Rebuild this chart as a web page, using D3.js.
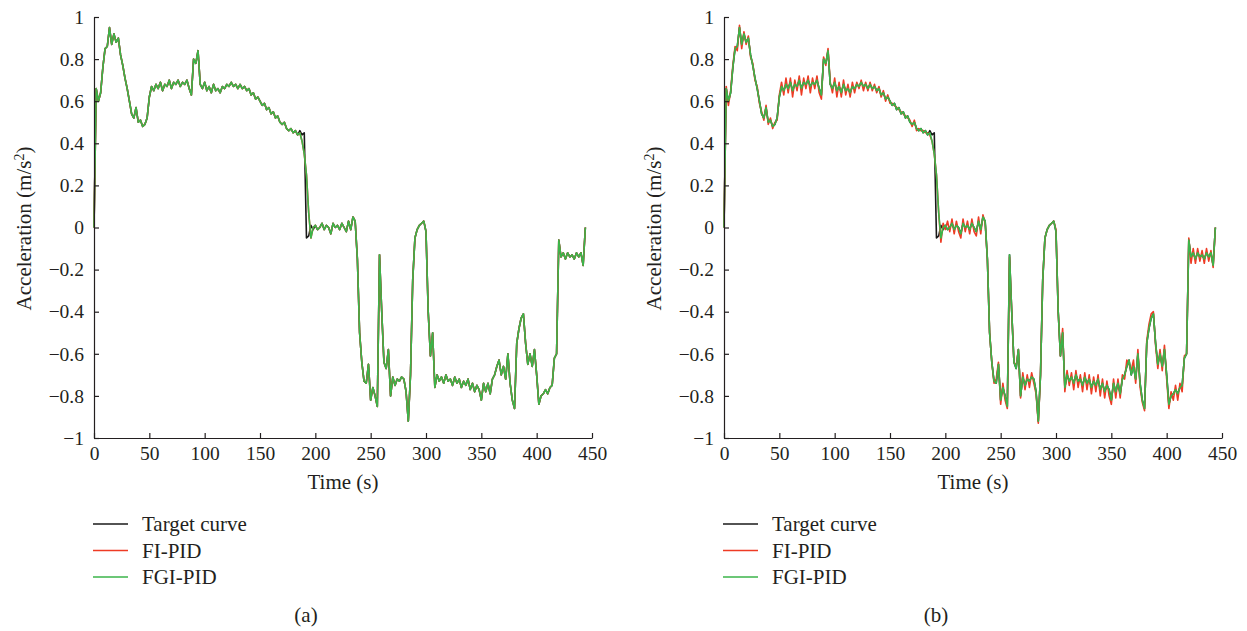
<!DOCTYPE html>
<html>
<head>
<meta charset="utf-8">
<script src="https://cdn.jsdelivr.net/npm/d3@7"></script>
<style>
  html, body { margin: 0; padding: 0; background: #fff; }
  svg { display: block; }
  text { font-family: "Liberation Serif", "DejaVu Serif", serif; fill: #231f20; }
</style>
</head>
<body>
<svg id="chart" width="1247" height="631"></svg>
<script>
// ---------------- DATA ----------------
const timeStep = 2; // s, sampling grid of the read-off curves
const time = d3.range(0, 445, timeStep);

const xTicks = [0, 50, 100, 150, 200, 250, 300, 350, 400, 450];
const yTicks = [-1, -0.8, -0.6, -0.4, -0.2, 0, 0.2, 0.4, 0.6, 0.8, 1];
const yTickLabels = ["\u22121", "\u22120.8", "\u22120.6", "\u22120.4", "\u22120.2", "0", "0.2", "0.4", "0.6", "0.8", "1"];

const seriesNames = ["Target curve", "FI-PID", "FGI-PID"];
const seriesColors = ["#1a1a1a", "#ee3b24", "#3bb54a"];
const captions = ["(a)", "(b)"];

const targetCurve = [
  0.00, 0.66, 0.60, 0.64, 0.76, 0.85, 0.86, 0.95, 0.87, 0.92,
  0.88, 0.90, 0.82, 0.77, 0.71, 0.66, 0.60, 0.54, 0.52, 0.57,
  0.50, 0.51, 0.48, 0.49, 0.52, 0.62, 0.67, 0.65, 0.68, 0.66,
  0.69, 0.65, 0.68, 0.67, 0.70, 0.66, 0.69, 0.68, 0.70, 0.67,
  0.69, 0.68, 0.70, 0.66, 0.63, 0.80, 0.78, 0.84, 0.68, 0.66,
  0.69, 0.65, 0.67, 0.64, 0.68, 0.65, 0.66, 0.64, 0.67, 0.66,
  0.68, 0.67, 0.69, 0.67, 0.68, 0.66, 0.68, 0.66, 0.67, 0.65,
  0.66, 0.63, 0.64, 0.61, 0.62, 0.60, 0.58, 0.59, 0.56, 0.57,
  0.54, 0.55, 0.52, 0.53, 0.50, 0.49, 0.50, 0.47, 0.46, 0.47,
  0.45, 0.46, 0.44, 0.46, 0.44, 0.45, -0.05, -0.04, 0.01, -0.01,
  0.01, -0.01, 0.00, 0.02, -0.01, 0.01, 0.00, -0.03, 0.02, 0.00,
  0.01, -0.01, 0.02, 0.00, -0.02, 0.03, -0.01, 0.05, 0.03, -0.15,
  -0.50, -0.64, -0.73, -0.74, -0.65, -0.82, -0.76, -0.80, -0.85, -0.13,
  -0.40, -0.64, -0.67, -0.58, -0.80, -0.71, -0.75, -0.72, -0.73, -0.71,
  -0.72, -0.78, -0.92, -0.70, -0.25, -0.05, -0.01, 0.01, 0.02, 0.03,
  -0.02, -0.40, -0.61, -0.50, -0.76, -0.70, -0.73, -0.71, -0.74, -0.70,
  -0.73, -0.72, -0.75, -0.71, -0.74, -0.72, -0.76, -0.73, -0.75, -0.72,
  -0.77, -0.74, -0.78, -0.75, -0.77, -0.82, -0.74, -0.78, -0.74, -0.79,
  -0.72, -0.70, -0.66, -0.63, -0.70, -0.66, -0.72, -0.60, -0.74, -0.82,
  -0.86, -0.55, -0.48, -0.43, -0.41, -0.55, -0.65, -0.60, -0.66, -0.58,
  -0.70, -0.84, -0.80, -0.79, -0.77, -0.79, -0.76, -0.75, -0.62, -0.60,
  -0.06, -0.14, -0.12, -0.15, -0.12, -0.14, -0.13, -0.15, -0.12, -0.14,
  -0.12, -0.18, 0.00
];

// FGI-PID response (same in both panels)
const fgiPid = [
  0.00, 0.66, 0.60, 0.64, 0.76, 0.85, 0.86, 0.95, 0.87, 0.92,
  0.88, 0.90, 0.82, 0.77, 0.71, 0.66, 0.60, 0.54, 0.52, 0.57,
  0.50, 0.51, 0.48, 0.49, 0.52, 0.62, 0.67, 0.65, 0.68, 0.66,
  0.69, 0.65, 0.68, 0.67, 0.70, 0.66, 0.69, 0.68, 0.70, 0.67,
  0.69, 0.68, 0.70, 0.66, 0.63, 0.80, 0.78, 0.84, 0.68, 0.66,
  0.69, 0.65, 0.67, 0.64, 0.68, 0.65, 0.66, 0.64, 0.67, 0.66,
  0.68, 0.67, 0.69, 0.67, 0.68, 0.66, 0.68, 0.66, 0.67, 0.65,
  0.66, 0.63, 0.64, 0.61, 0.62, 0.60, 0.58, 0.59, 0.56, 0.57,
  0.54, 0.55, 0.52, 0.53, 0.50, 0.49, 0.50, 0.47, 0.46, 0.47,
  0.45, 0.46, 0.44, 0.45, 0.41, 0.35, 0.25, 0.07, -0.05, 0.00,
  0.01, -0.01, 0.00, 0.02, -0.01, 0.01, 0.00, -0.03, 0.02, 0.00,
  0.01, -0.01, 0.02, 0.00, -0.02, 0.03, -0.01, 0.05, 0.03, -0.15,
  -0.50, -0.64, -0.73, -0.74, -0.65, -0.82, -0.76, -0.80, -0.85, -0.13,
  -0.40, -0.64, -0.67, -0.58, -0.80, -0.71, -0.75, -0.72, -0.73, -0.71,
  -0.72, -0.78, -0.92, -0.70, -0.25, -0.05, -0.01, 0.01, 0.02, 0.03,
  -0.02, -0.40, -0.61, -0.50, -0.76, -0.70, -0.73, -0.71, -0.74, -0.70,
  -0.73, -0.72, -0.75, -0.71, -0.74, -0.72, -0.76, -0.73, -0.75, -0.72,
  -0.77, -0.74, -0.78, -0.75, -0.77, -0.82, -0.74, -0.78, -0.74, -0.79,
  -0.72, -0.70, -0.66, -0.63, -0.70, -0.66, -0.72, -0.60, -0.74, -0.82,
  -0.86, -0.55, -0.48, -0.43, -0.41, -0.55, -0.65, -0.60, -0.66, -0.58,
  -0.70, -0.84, -0.80, -0.79, -0.77, -0.79, -0.76, -0.75, -0.62, -0.60,
  -0.06, -0.14, -0.12, -0.15, -0.12, -0.14, -0.13, -0.15, -0.12, -0.14,
  -0.12, -0.18, 0.00
];

// FI-PID response, panel (a): hidden under FGI-PID
const fiPidA = [
  0.00, 0.66, 0.60, 0.64, 0.76, 0.85, 0.86, 0.95, 0.87, 0.92,
  0.88, 0.90, 0.82, 0.77, 0.71, 0.66, 0.60, 0.54, 0.52, 0.57,
  0.50, 0.51, 0.48, 0.49, 0.52, 0.62, 0.67, 0.65, 0.68, 0.66,
  0.69, 0.65, 0.68, 0.67, 0.70, 0.66, 0.69, 0.68, 0.70, 0.67,
  0.69, 0.68, 0.70, 0.66, 0.63, 0.80, 0.78, 0.84, 0.68, 0.66,
  0.69, 0.65, 0.67, 0.64, 0.68, 0.65, 0.66, 0.64, 0.67, 0.66,
  0.68, 0.67, 0.69, 0.67, 0.68, 0.66, 0.68, 0.66, 0.67, 0.65,
  0.66, 0.63, 0.64, 0.61, 0.62, 0.60, 0.58, 0.59, 0.56, 0.57,
  0.54, 0.55, 0.52, 0.53, 0.50, 0.49, 0.50, 0.47, 0.46, 0.47,
  0.45, 0.46, 0.44, 0.45, 0.41, 0.35, 0.25, 0.07, -0.05, 0.00,
  0.01, -0.01, 0.00, 0.02, -0.01, 0.01, 0.00, -0.03, 0.02, 0.00,
  0.01, -0.01, 0.02, 0.00, -0.02, 0.03, -0.01, 0.05, 0.03, -0.15,
  -0.50, -0.64, -0.73, -0.74, -0.65, -0.82, -0.76, -0.80, -0.85, -0.13,
  -0.40, -0.64, -0.67, -0.58, -0.80, -0.71, -0.75, -0.72, -0.73, -0.71,
  -0.72, -0.78, -0.92, -0.70, -0.25, -0.05, -0.01, 0.01, 0.02, 0.03,
  -0.02, -0.40, -0.61, -0.50, -0.76, -0.70, -0.73, -0.71, -0.74, -0.70,
  -0.73, -0.72, -0.75, -0.71, -0.74, -0.72, -0.76, -0.73, -0.75, -0.72,
  -0.77, -0.74, -0.78, -0.75, -0.77, -0.82, -0.74, -0.78, -0.74, -0.79,
  -0.72, -0.70, -0.66, -0.63, -0.70, -0.66, -0.72, -0.60, -0.74, -0.82,
  -0.86, -0.55, -0.48, -0.43, -0.41, -0.55, -0.65, -0.60, -0.66, -0.58,
  -0.70, -0.84, -0.80, -0.79, -0.77, -0.79, -0.76, -0.75, -0.62, -0.60,
  -0.06, -0.14, -0.12, -0.15, -0.12, -0.14, -0.13, -0.15, -0.12, -0.14,
  -0.12, -0.18, 0.00
];

// FI-PID response, panel (b): larger excursions
const fiPidB = [
  0.00, 0.67, 0.58, 0.65, 0.77, 0.86, 0.84, 0.96, 0.85, 0.93,
  0.87, 0.91, 0.81, 0.78, 0.70, 0.67, 0.59, 0.55, 0.51, 0.58,
  0.49, 0.52, 0.47, 0.50, 0.51, 0.63, 0.69, 0.63, 0.71, 0.64,
  0.71, 0.62, 0.70, 0.65, 0.72, 0.63, 0.71, 0.66, 0.72, 0.64,
  0.71, 0.66, 0.72, 0.64, 0.61, 0.81, 0.77, 0.85, 0.69, 0.64,
  0.71, 0.62, 0.69, 0.62, 0.70, 0.63, 0.68, 0.62, 0.69, 0.64,
  0.69, 0.66, 0.70, 0.65, 0.69, 0.65, 0.69, 0.65, 0.68, 0.64,
  0.67, 0.62, 0.65, 0.60, 0.63, 0.59, 0.59, 0.58, 0.57, 0.56,
  0.55, 0.54, 0.53, 0.52, 0.51, 0.48, 0.51, 0.46, 0.47, 0.46,
  0.46, 0.45, 0.45, 0.44, 0.41, 0.35, 0.25, 0.07, -0.07, 0.02,
  -0.01, 0.03, -0.02, 0.04, -0.03, 0.03, -0.02, -0.05, 0.04, -0.02,
  0.03, -0.03, 0.04, -0.02, -0.04, 0.05, -0.03, 0.06, 0.02, -0.15,
  -0.50, -0.64, -0.74, -0.72, -0.64, -0.84, -0.74, -0.82, -0.86, -0.14,
  -0.40, -0.64, -0.66, -0.58, -0.81, -0.69, -0.77, -0.70, -0.76, -0.69,
  -0.74, -0.79, -0.93, -0.70, -0.25, -0.05, -0.01, 0.01, 0.02, 0.03,
  -0.01, -0.40, -0.61, -0.48, -0.78, -0.68, -0.75, -0.69, -0.77, -0.68,
  -0.76, -0.70, -0.78, -0.69, -0.77, -0.70, -0.79, -0.71, -0.78, -0.70,
  -0.80, -0.72, -0.81, -0.73, -0.80, -0.84, -0.72, -0.81, -0.72, -0.81,
  -0.70, -0.72, -0.63, -0.65, -0.68, -0.63, -0.74, -0.58, -0.76, -0.83,
  -0.87, -0.54, -0.46, -0.41, -0.40, -0.56, -0.67, -0.58, -0.68, -0.56,
  -0.72, -0.86, -0.78, -0.82, -0.75, -0.82, -0.74, -0.78, -0.61, -0.60,
  -0.05, -0.17, -0.10, -0.17, -0.10, -0.16, -0.11, -0.17, -0.10, -0.16,
  -0.11, -0.19, 0.00
];

const panels = [
  { caption: captions[0], series: [targetCurve, fiPidA, fgiPid], left: 94 },
  { caption: captions[1], series: [targetCurve, fiPidB, fgiPid], left: 724 }
];

// ---------------- DRAW ----------------
const svg = d3.select("#chart");
const plotW = 498, plotTop = 17, plotBottom = 438;

panels.forEach(p => {
  const x = d3.scaleLinear().domain([0, 450]).range([p.left, p.left + plotW]);
  const y = d3.scaleLinear().domain([-1, 1]).range([plotBottom, plotTop]);
  const g = svg.append("g");

  // series lines
  const line = d3.line().x((d, i) => x(time[i])).y(d => y(d));
  p.series.forEach((vals, k) => {
    g.append("path")
      .datum(vals)
      .attr("fill", "none")
      .attr("stroke", seriesColors[k])
      .attr("stroke-width", 1.6)
      .attr("stroke-linejoin", "round")
      .attr("d", line);
  });

  // axes
  const yAxis = d3.axisLeft(y).tickValues(yTicks)
    .tickFormat((d, i) => yTickLabels[i])
    .tickSizeInner(-5).tickSizeOuter(0).tickPadding(10);
  const xAxis = d3.axisBottom(x).tickValues(xTicks)
    .tickSizeInner(-5).tickSizeOuter(0).tickPadding(8);

  const ya = g.append("g").attr("transform", `translate(${p.left},0)`).call(yAxis);
  const xa = g.append("g").attr("transform", `translate(0,${plotBottom})`).call(xAxis);
  [ya, xa].forEach(a => {
    a.select(".domain").attr("stroke", "#231f20").attr("stroke-width", 1.2);
    a.selectAll(".tick line").attr("stroke", "#231f20").attr("stroke-width", 1.2);
    a.selectAll("text").attr("font-family", "Liberation Serif, DejaVu Serif, serif")
      .attr("font-size", 19.5).attr("fill", "#231f20");
  });

  // axis titles
  const yl = g.append("text")
    .attr("transform", `translate(${p.left - 63},${(plotTop + plotBottom) / 2 + 1}) rotate(-90)`)
    .attr("text-anchor", "middle")
    .attr("font-size", 21);
  yl.append("tspan").text("Acceleration (m/s");
  yl.append("tspan").attr("baseline-shift", "super").attr("font-size", 14).text("2");
  yl.append("tspan").text(")");

  g.append("text")
    .attr("x", p.left + 249).attr("y", 489)
    .attr("text-anchor", "middle").attr("font-size", 21)
    .text("Time (s)");

  // legend
  seriesNames.forEach((name, k) => {
    const ly = 524 + k * 26.5;
    g.append("line")
      .attr("x1", p.left - 1).attr("x2", p.left + 34)
      .attr("y1", ly).attr("y2", ly)
      .attr("stroke", seriesColors[k]).attr("stroke-width", 1.6);
    g.append("text")
      .attr("x", p.left + 48).attr("y", ly + 7)
      .attr("font-size", 21)
      .text(name);
  });

  // caption
  g.append("text")
    .attr("x", p.left + 212).attr("y", 622)
    .attr("text-anchor", "middle").attr("font-size", 21)
    .text(p.caption);
});
</script>
</body>
</html>
